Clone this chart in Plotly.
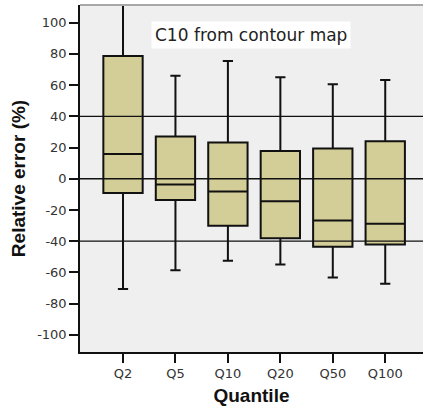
import plotly.graph_objects as go

categories = ["Q2", "Q5", "Q10", "Q20", "Q50", "Q100"]
lower_whisker = [-70.7, -58.6, -52.6, -55.0, -63.3, -67.3]
q1_values = [-9.1, -13.7, -30.2, -38.1, -43.5, -42.2]
median_values = [15.9, -3.7, -8.2, -14.4, -26.8, -28.9]
q3_values = [78.7, 27.0, 23.2, 17.8, 19.3, 24.0]
upper_whisker = [116.0, 65.9, 75.5, 65.0, 60.5, 63.3]
reference_lines = [40, 0, -40]
y_tick_values = [100, 80, 60, 40, 20, 0, -20, -40, -60, -80, -100]
y_tick_labels = ["100", "80", "60", "40", "20", "0", "-20", "-40", "-60", "-80", "-100"]

fig = go.Figure()
fig.add_trace(go.Box(
    x=categories,
    q1=q1_values,
    median=median_values,
    q3=q3_values,
    lowerfence=lower_whisker,
    upperfence=upper_whisker,
    fillcolor="#d3cd97",
    line=dict(color="#111111", width=2),
    width=0.75,
    whiskerwidth=0.26,
    boxpoints=False,
    hoverinfo="skip",
    showlegend=False,
))

for yv in reference_lines:
    fig.add_shape(type="line", xref="paper", x0=0, x1=1, yref="y", y0=yv, y1=yv,
                  line=dict(color="#111111", width=1.3), layer="above")

fig.add_shape(type="line", xref="paper", x0=0, x1=1, yref="paper", y0=1, y1=1,
              line=dict(color="#a8a8a8", width=2), layer="above")

fig.add_annotation(
    text="C10 from contour map", xref="paper", yref="paper",
    x=(251 - 80) / 343, y=(352 - 35) / 347, xanchor="center", yanchor="middle",
    showarrow=False,
    font=dict(family="DejaVu Sans", size=17, color="#222222"),
    bgcolor="white", borderpad=3,
)

fig.update_layout(
    width=423, height=414,
    margin=dict(l=80, r=0, t=5, b=62, autoexpand=False),
    paper_bgcolor="white",
    plot_bgcolor="#efefef",
    font=dict(family="DejaVu Sans", size=13, color="#222222"),
    xaxis=dict(
        type="category",
        range=[-0.82, 5.72],
        automargin=False,
        showgrid=False, zeroline=False,
        showline=True, linecolor="#111111", linewidth=1.5,
        ticks="outside", ticklen=9, tickwidth=1.5, tickcolor="#111111",
        tickfont=dict(family="DejaVu Sans", size=13, color="#333333"),
        title=dict(text="<b>Quantile</b>", standoff=8,
                   font=dict(family="Liberation Sans", size=19, color="#111111")),
    ),
    yaxis=dict(
        range=[-111, 111.3],
        automargin=False,
        tickvals=y_tick_values, ticktext=y_tick_labels,
        showgrid=False, zeroline=False,
        showline=True, linecolor="#111111", linewidth=1.5,
        ticks="outside", ticklen=9, tickwidth=1.5, tickcolor="#111111",
        tickfont=dict(family="DejaVu Sans", size=13, color="#333333"),
        title=dict(text="<b>Relative error (%)</b>", standoff=6,
                   font=dict(family="Liberation Sans", size=19, color="#111111")),
    ),
)

fig.write_html("out.html", config={"displayModeBar": False},
               post_script="document.body.style.margin='0';")
